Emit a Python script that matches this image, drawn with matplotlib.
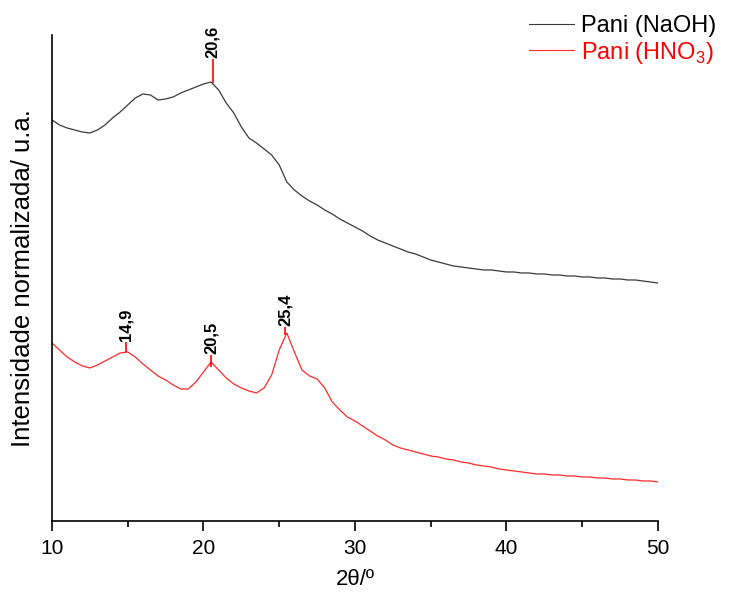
import numpy as np
import matplotlib
matplotlib.use("Agg")
from matplotlib import pyplot as plt

plt.rcParams['font.family'] = ['Liberation Sans', 'DejaVu Sans']
plt.rcParams['mathtext.fontset'] = 'custom'
plt.rcParams['mathtext.rm'] = 'Liberation Sans'

# 2theta grid (degrees) and curve heights (arb. units)
two_theta = np.arange(10, 50.01, 0.5)

naoh = [397, 392, 389, 387, 385, 384, 387, 392, 399, 405,
        412, 419, 423, 422, 417, 418, 420, 424, 427, 430,
        433, 435, 427, 414, 404, 390, 379, 374, 368, 362,
        352, 335, 327, 321, 316, 312, 307, 303, 298, 294,
        290, 286, 281, 277, 274, 271, 268, 265, 263, 260,
        257, 255, 253, 251, 250, 249, 248, 247, 247, 246,
        245, 245, 244, 244, 243, 243, 242, 242, 241, 241,
        240, 240, 239, 239, 238, 238, 237, 237, 236, 235,
        234]

hno3 = [174, 167, 160, 155, 151, 149, 152, 156, 160, 164,
        165, 160, 153, 147, 141, 137, 132, 128, 128, 135,
        145, 155, 147, 139, 133, 129, 126, 124, 129, 142,
        167, 184, 165, 147, 141, 138, 129, 115, 107, 100,
        96, 91, 86, 81, 77, 72, 69, 67, 65, 63,
        61, 60, 58, 57, 55, 54, 52, 51, 50, 48,
        47, 46, 45, 44, 43, 43, 42, 42, 41, 41,
        40, 40, 39, 39, 38, 38, 37, 37, 36, 36,
        35]

# peak labels: position, label, tick bottom, tick top
peaks_x = [20.6, 14.9, 20.5, 25.4]
peaks_lbl = ["20,6", "14,9", "20,5", "25,4"]
peaks_lo = [434, 165, 150, 182]
peaks_hi = [458, 175, 162, 190]

fig = plt.figure(figsize=(7.29, 5.95), dpi=100)
ax = fig.add_axes([0.0713, 0.1244, 0.8313, 0.8168])

ax.plot(two_theta, naoh, color='#3a3a3a', lw=0.9, label='Pani (NaOH)')
ax.plot(two_theta, hno3, color='#ff2a2a', lw=0.9, label='Pani (HNO$_3$)')

for px, lb, lo, hi in zip(peaks_x, peaks_lbl, peaks_lo, peaks_hi):
    ax.vlines(px, lo, hi, color='red', lw=1.2)
    ax.text(px, hi + 1, lb, rotation=90, ha='center', va='bottom',
            fontsize=12, fontweight='bold')

ax.set_xlim(10, 50)
ax.set_ylim(-4, 482)
ax.set_xticks([10, 20, 30, 40, 50])
ax.set_xticks([15, 25, 35, 45], minor=True)
ax.set_yticks([])
ax.tick_params(axis='x', direction='out', length=7, width=1.2, pad=6,
               labelsize=15)
ax.tick_params(axis='x', which='minor', length=4, width=1.2)
ax.spines['top'].set_visible(False)
ax.spines['right'].set_visible(False)
ax.spines['left'].set_linewidth(1.2)
ax.spines['bottom'].set_linewidth(1.2)

ax.set_xlabel('2θ/º', fontsize=16, labelpad=8)
ax.set_ylabel('Intensidade normalizada/ u.a.', fontsize=18.5, labelpad=12)

leg = fig.legend(loc='upper right', bbox_to_anchor=(1.012, 1.01), frameon=False,
                 fontsize=17, handlelength=1.9, handletextpad=0.3,
                 labelspacing=0.1, labelcolor=['black', 'red'])
for ln in leg.get_lines():
    ln.set_linewidth(0.8)

plt.savefig("out.png", dpi=100)
